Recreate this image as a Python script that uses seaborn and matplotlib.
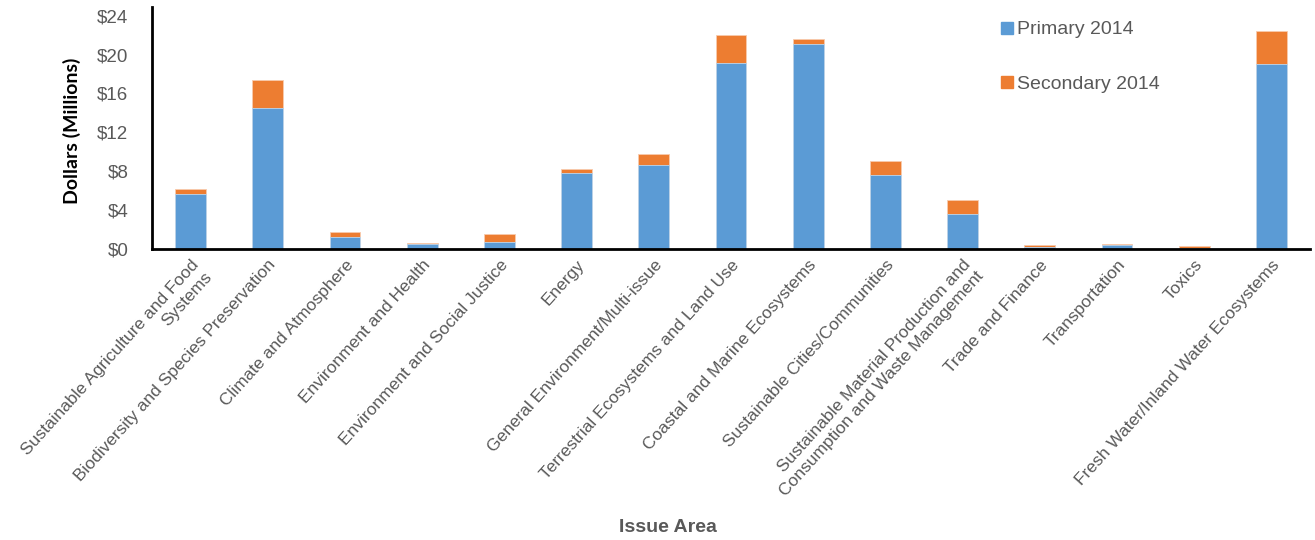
import matplotlib
matplotlib.use("Agg")
import matplotlib.pyplot as plt
from matplotlib.lines import Line2D
import seaborn as sns
import pandas as pd

categories = [
    "Sustainable Agriculture and Food\nSystems",
    "Biodiversity and Species Preservation",
    "Climate and Atmosphere",
    "Environment and Health",
    "Environment and Social Justice",
    "Energy",
    "General Environment/Multi-issue",
    "Terrestrial Ecosystems and Land Use",
    "Coastal and Marine Ecosystems",
    "Sustainable Cities/Communities",
    "Sustainable Material Production and\nConsumption and Waste Management",
    "Trade and Finance",
    "Transportation",
    "Toxics",
    "Fresh Water/Inland Water Ecosystems",
]
primary_2014 = [5.7, 14.5, 1.2, 0.5, 0.7, 7.8, 8.6, 19.1, 21.1, 7.6, 3.6, 0.2, 0.45, 0.15, 19.0]
secondary_2014 = [0.5, 2.9, 0.6, 0.1, 0.8, 0.45, 1.2, 2.95, 0.5, 1.5, 1.4, 0.2, 0.07, 0.2, 3.4]
y_ticks = [0, 4, 8, 12, 16, 20, 24]

BLUE = "#5B9BD5"
ORANGE = "#ED7D31"
GREY = "#595959"

sns.set_style("white")
plt.rcParams["font.family"] = ["Liberation Sans", "DejaVu Sans"]

df = pd.DataFrame({
    "issue": categories,
    "primary": primary_2014,
    "secondary": secondary_2014,
})
df["total"] = df["primary"] + df["secondary"]

fig = plt.figure(figsize=(13.15, 5.4), dpi=100)
ax = fig.add_axes([152 / 1315, 1 - 249 / 540, (1310 - 152) / 1315, (249 - 7) / 540])

# Stacked bars: totals in orange, primary share drawn over them in blue
sns.barplot(data=df, x="issue", y="total", color=ORANGE, width=0.4,
            saturation=1, edgecolor="#F8CBAD", linewidth=0.6, ax=ax)
sns.barplot(data=df, x="issue", y="primary", color=BLUE, width=0.4,
            saturation=1, edgecolor="#BDD7EE", linewidth=0.6, ax=ax)

ax.set_ylim(0, 24.9)
ax.set_xlim(-0.5, len(categories) - 0.5)
ax.set_yticks(y_ticks)
ax.set_yticklabels([f"${v}" for v in y_ticks], fontsize=13.5, color=GREY)
ax.tick_params(axis="both", length=0)
ax.tick_params(axis="y", pad=17)
ax.set_xticks(range(len(categories)))
ax.set_xticklabels(categories, rotation=48, ha="right", va="top",
                   rotation_mode="anchor", fontsize=12.5, color=GREY,
                   multialignment="right")
ax.tick_params(axis="x", pad=6)

for side in ("top", "right"):
    ax.spines[side].set_visible(False)
for side in ("left", "bottom"):
    ax.spines[side].set_color("black")
    ax.spines[side].set_linewidth(2)

ax.set_ylabel("Dollars (Millions)", fontsize=14, fontweight="bold",
              color="black", family=["Lato", "DejaVu Sans"])
ax.yaxis.set_label_coords(-0.0615, 0.49)
ax.set_xlabel("")
fig.text(668 / 1315, 1 - 527 / 540, "Issue Area", ha="center", va="center",
         fontsize=14, fontweight="bold", color=GREY)

handles = [
    Line2D([], [], marker="s", linestyle="none", markersize=9,
           markerfacecolor=BLUE, markeredgecolor=BLUE),
    Line2D([], [], marker="s", linestyle="none", markersize=9,
           markerfacecolor=ORANGE, markeredgecolor=ORANGE),
]
leg = fig.legend(handles, ["Primary 2014", "Secondary 2014"],
                 loc="upper left", bbox_to_anchor=(992 / 1315, 1 - 13 / 540),
                 frameon=False, fontsize=14, labelspacing=1.9,
                 handlelength=0.7, handletextpad=0.2, borderaxespad=0)
for t in leg.get_texts():
    t.set_color(GREY)

fig.savefig("out.png", dpi=100)
